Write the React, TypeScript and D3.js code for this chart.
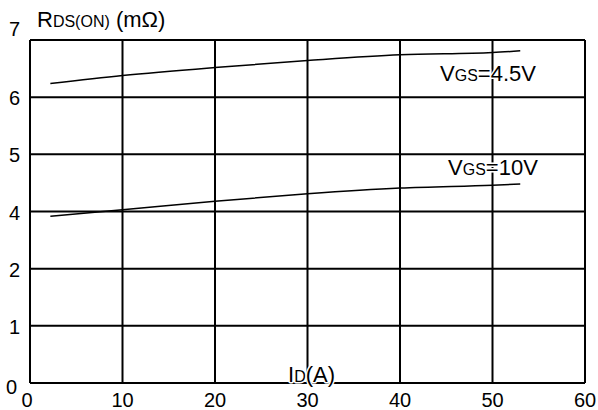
import React from "react";
import * as d3 from "d3";

// drain current (A) and on-resistance (mOhm)
const idTicks = [0, 10, 20, 30, 40, 50, 60];
const rdsTicks = [0, 1, 2, 4, 5, 6, 7];
const current = [2.2, 10, 20, 30, 40, 50, 53];
const rdsVgs45 = [6.24, 6.38, 6.52, 6.64, 6.74, 6.78, 6.81];
const rdsVgs10 = [3.83, 4.03, 4.18, 4.31, 4.41, 4.46, 4.48];

const W = 598;
const H = 410;
const left = 30;
const right = 585;
const top = 40;
const bottom = 383;
const font = "'Liberation Sans', Arial, sans-serif";

export default function App() {
  const x = d3.scaleLinear().domain([0, 60]).range([left, right]);
  // the y axis is labelled 0,1,2,4,5,6,7 at even spacing
  const step = (bottom - top) / (rdsTicks.length - 1);
  const y = d3
    .scaleLinear()
    .domain(rdsTicks)
    .range(rdsTicks.map((_, i) => bottom - i * step));

  const line = d3
    .line<number>()
    .x((_, i) => x(current[i]))
    .y((d) => y(d))
    .curve(d3.curveMonotoneX);

  const halo = {
    paintOrder: "stroke" as const,
    stroke: "#fff",
    strokeWidth: 3,
    strokeLinejoin: "round" as const,
  };

  return (
    <svg
      width={W}
      height={H}
      style={{ position: "absolute", left: 0, top: 0, background: "#fff" }}
      fontFamily={font}
    >
      <rect x={0} y={0} width={W} height={H} fill="#fff" />
      <g stroke="#000" strokeWidth={2}>
        {idTicks.map((t) => (
          <line key={"vx" + t} x1={x(t)} x2={x(t)} y1={top} y2={bottom} />
        ))}
        {rdsTicks.map((t) => (
          <line key={"hy" + t} x1={left} x2={right} y1={y(t)} y2={y(t)} />
        ))}
      </g>
      <path d={line(rdsVgs45) ?? ""} fill="none" stroke="#000" strokeWidth={1.5} />
      <path d={line(rdsVgs10) ?? ""} fill="none" stroke="#000" strokeWidth={1.5} />

      <g fontSize={20} fill="#000">
        {idTicks.map((t) => (
          <text key={"xt" + t} x={x(t) - (t === 0 ? 3 : 0)} y={406.5} textAnchor="middle">
            {t}
          </text>
        ))}
        {rdsTicks.map((t, i) => (
          <text
            key={"yt" + t}
            x={i === 0 ? 17 : 20}
            y={y(t) + (i === rdsTicks.length - 1 ? -4 : i === 0 ? 11 : 8)}
            textAnchor="end"
          >
            {t}
          </text>
        ))}
      </g>

      <text x={37} y={27} fontSize={22}>
        R<tspan fontSize={16}>DS(ON)</tspan> (mΩ)
      </text>

      <text x={288} y={382} fontSize={22} style={halo}>
        I<tspan fontSize={16}>D</tspan>(A)
      </text>

      <text x={440} y={81} fontSize={22} style={halo}>
        V<tspan fontSize={16}>GS</tspan>=4.5V
      </text>
      <text x={448} y={175} fontSize={22} style={halo}>
        V<tspan fontSize={16}>GS</tspan>=10V
      </text>
    </svg>
  );
}
